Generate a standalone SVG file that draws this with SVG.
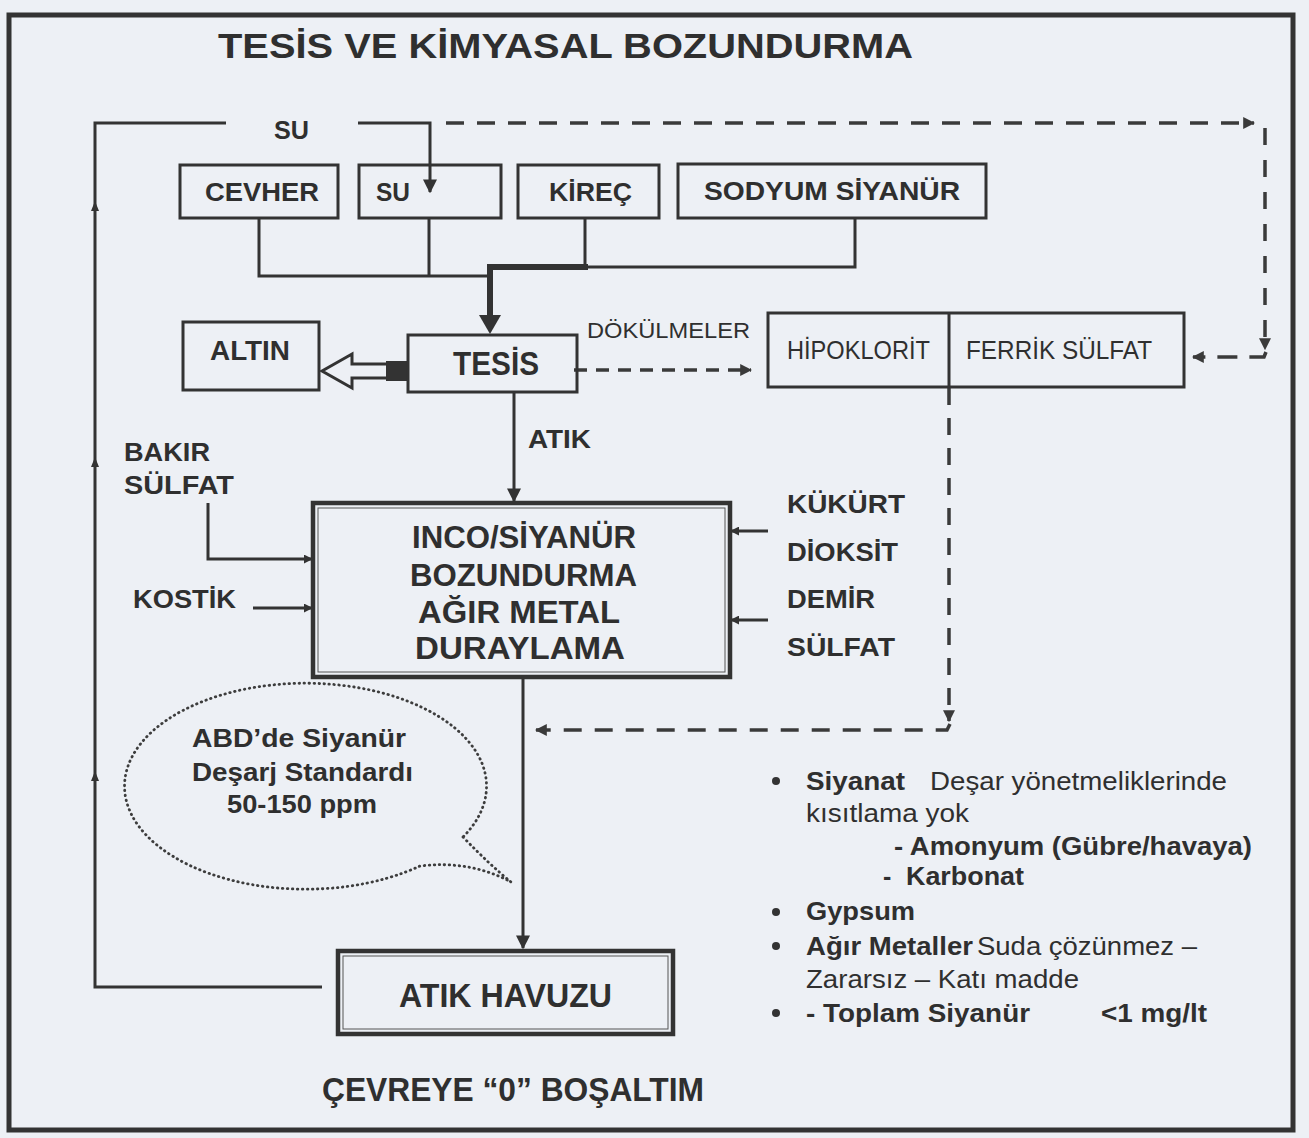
<svg xmlns="http://www.w3.org/2000/svg" width="1309" height="1138" viewBox="0 0 1309 1138">
<style>
.t{font-family:"Liberation Sans",Arial,sans-serif;fill:#2f2f2f}
.b{font-weight:bold}
.box{fill:none;stroke:#333;stroke-width:3}
.ln{fill:none;stroke:#333;stroke-width:3}
.dash{fill:none;stroke:#3a3a3a;stroke-width:3.5}
.dot{fill:none;stroke:#3d3d3d;stroke-width:2.8;stroke-dasharray:0.5 4.5;stroke-linecap:round}
</style>
<defs>
<marker id="a" viewBox="0 0 10 10" refX="9" refY="5" markerWidth="14" markerHeight="14" orient="auto" markerUnits="userSpaceOnUse"><path d="M0,0 L10,5 L0,10 z" fill="#333"/></marker>
<marker id="s" viewBox="0 0 10 10" refX="9" refY="5" markerWidth="9" markerHeight="9" orient="auto" markerUnits="userSpaceOnUse"><path d="M0,0 L10,5 L0,10 z" fill="#333"/></marker>
<marker id="d" viewBox="0 0 10 10" refX="9" refY="5" markerWidth="12" markerHeight="12" orient="auto" markerUnits="userSpaceOnUse"><path d="M0,0 L10,5 L0,10 z" fill="#3a3a3a"/></marker>
</defs>
<rect x="0" y="0" width="1309" height="1138" fill="#edf0f5"/>
<rect x="9" y="15" width="1284" height="1115" fill="none" stroke="#333" stroke-width="5"/>
<text class="t b" x="218" y="58" font-size="35" textLength="695" lengthAdjust="spacingAndGlyphs">TESİS VE KİMYASAL BOZUNDURMA</text>

<g id="connectors">
  <path class="ln" d="M322 987 L95 987 L95 123 L226 123"/>
  <path d="M91 211 L95 201 L99 211 Z M91 467 L95 457 L99 467 Z M91 781 L95 771 L99 781 Z" fill="#333"/>
  <path class="ln" d="M358 123 L430 123 L430 192" marker-end="url(#a)"/>
  <path class="ln" d="M259 218 L259 276 L490 276"/>
  <path class="ln" d="M429 218 L429 276"/>
  <path class="ln" d="M585 218 L585 267"/>
  <path class="ln" d="M585 267 L855 267 L855 218"/>
  <path fill="none" stroke="#333" stroke-width="6" d="M588 267 L490 267 L490 318"/>
  <path d="M479 315 L501 315 L490 334 Z" fill="#333"/>
  <path d="M322 371 L352 354 L352 364 L390 364 L390 378 L352 378 L352 388 Z" fill="#edf0f5" stroke="#333" stroke-width="3" stroke-linejoin="miter"/>
  <rect x="386" y="361" width="22" height="20" fill="#333"/>
  <path class="ln" d="M514 392 L514 501" marker-end="url(#a)"/>
  <path class="ln" d="M523 677 L523 948" marker-end="url(#a)"/>
  <path class="ln" d="M208 503 L208 559 L312 559" marker-end="url(#s)"/>
  <path class="ln" d="M253 608 L312 608" marker-end="url(#s)"/>
  <path class="ln" d="M768 531 L731 531" marker-end="url(#s)"/>
  <path class="ln" d="M768 620 L731 620" marker-end="url(#s)"/>
  <path class="dash" d="M446 123 L1254 123" stroke-dasharray="18 13" marker-end="url(#d)"/>
  <path class="dash" d="M1265 128 L1265 349" stroke-dasharray="17 15" marker-end="url(#d)"/>
  <path class="dash" d="M1266 352 L1264 357 L1193 357" stroke-dasharray="20 12" marker-end="url(#d)"/>
  <path class="dash" d="M574 370 L751 370" stroke-dasharray="13 9" marker-end="url(#d)"/>
  <path class="dash" d="M949 388 L949 721" stroke-dasharray="17 13" marker-end="url(#d)"/>
  <path class="dash" d="M950 724 L947 730 L536 730" stroke-dasharray="18 13" marker-end="url(#d)"/>
</g>

<g id="cevher"><rect class="box" x="180" y="165" width="158" height="53"/><text class="t b" x="205" y="201" font-size="26" textLength="114" lengthAdjust="spacingAndGlyphs">CEVHER</text></g>
<g id="su"><rect class="box" x="359" y="165" width="142" height="53"/><text class="t b" x="376" y="201" font-size="26" textLength="34" lengthAdjust="spacingAndGlyphs">SU</text></g>
<g id="kirec"><rect class="box" x="518" y="165" width="141" height="53"/><text class="t b" x="549" y="201" font-size="26" textLength="83" lengthAdjust="spacingAndGlyphs">KİREÇ</text></g>
<g id="sodyum"><rect class="box" x="678" y="164" width="308" height="54"/><text class="t b" x="704" y="200" font-size="26" textLength="256" lengthAdjust="spacingAndGlyphs">SODYUM SİYANÜR</text></g>
<g id="altin"><rect class="box" x="183" y="322" width="136" height="68"/><text class="t b" x="210" y="360" font-size="27" textLength="80" lengthAdjust="spacingAndGlyphs">ALTIN</text></g>
<g id="tesis"><rect class="box" x="408" y="335" width="169" height="57"/><text class="t b" x="453" y="375" font-size="33" textLength="86" lengthAdjust="spacingAndGlyphs">TESİS</text></g>
<g id="kimyasallar"><rect class="box" x="768" y="313" width="416" height="74"/><path class="ln" d="M949 313 L949 387"/>
  <text class="t" x="787" y="359" font-size="25" textLength="143" lengthAdjust="spacingAndGlyphs">HİPOKLORİT</text>
  <text class="t" x="966" y="359" font-size="25" textLength="186" lengthAdjust="spacingAndGlyphs">FERRİK SÜLFAT</text></g>
<g id="inco"><rect x="313" y="503" width="417" height="174" fill="none" stroke="#333" stroke-width="4.5"/><rect x="318" y="508" width="407" height="164" fill="none" stroke="#555" stroke-width="1"/>
  <text class="t b" x="412" y="548" font-size="32" textLength="224" lengthAdjust="spacingAndGlyphs">INCO/SİYANÜR</text>
  <text class="t b" x="410" y="586" font-size="32" textLength="227" lengthAdjust="spacingAndGlyphs">BOZUNDURMA</text>
  <text class="t b" x="418" y="623" font-size="32" textLength="202" lengthAdjust="spacingAndGlyphs">AĞIR METAL</text>
  <text class="t b" x="415" y="659" font-size="32" textLength="210" lengthAdjust="spacingAndGlyphs">DURAYLAMA</text></g>
<g id="havuz"><rect x="338" y="951" width="335" height="83" fill="none" stroke="#333" stroke-width="4.5"/><rect x="343" y="956" width="325" height="73" fill="none" stroke="#555" stroke-width="1"/>
  <text class="t b" x="399" y="1007" font-size="33" textLength="213" lengthAdjust="spacingAndGlyphs">ATIK HAVUZU</text></g>
<g id="bubble"><path class="dot" d="M463 837 Q490 865 511 882 Q470 860 420 866 A181 103 0 1 1 463 837"/>
  <text class="t b" x="192" y="747" font-size="25" textLength="214" lengthAdjust="spacingAndGlyphs">ABD’de Siyanür</text>
  <text class="t b" x="192" y="781" font-size="25" textLength="221" lengthAdjust="spacingAndGlyphs">Deşarj Standardı</text>
  <text class="t b" x="227" y="813" font-size="25" textLength="150" lengthAdjust="spacingAndGlyphs">50-150 ppm</text></g>
<g id="labels">
  <text class="t b" x="274" y="139" font-size="26" textLength="35" lengthAdjust="spacingAndGlyphs">SU</text>
  <text class="t" x="587" y="338" font-size="22" textLength="163" lengthAdjust="spacingAndGlyphs">DÖKÜLMELER</text>
  <text class="t b" x="528" y="448" font-size="25" textLength="63" lengthAdjust="spacingAndGlyphs">ATIK</text>
  <text class="t b" x="124" y="461" font-size="25" textLength="86" lengthAdjust="spacingAndGlyphs">BAKIR</text>
  <text class="t b" x="124" y="494" font-size="25" textLength="110" lengthAdjust="spacingAndGlyphs">SÜLFAT</text>
  <text class="t b" x="133" y="608" font-size="25" textLength="103" lengthAdjust="spacingAndGlyphs">KOSTİK</text>
  <text class="t b" x="787" y="513" font-size="25" textLength="118" lengthAdjust="spacingAndGlyphs">KÜKÜRT</text>
  <text class="t b" x="787" y="561" font-size="25" textLength="111" lengthAdjust="spacingAndGlyphs">DİOKSİT</text>
  <text class="t b" x="787" y="608" font-size="25" textLength="88" lengthAdjust="spacingAndGlyphs">DEMİR</text>
  <text class="t b" x="787" y="656" font-size="25" textLength="108" lengthAdjust="spacingAndGlyphs">SÜLFAT</text>
  <text class="t b" x="322" y="1101" font-size="34" textLength="382" lengthAdjust="spacingAndGlyphs">ÇEVREYE “0” BOŞALTIM</text>
</g>
<g id="notes">
  <circle cx="776" cy="781" r="4" fill="#333"/>
  <circle cx="776" cy="912" r="4" fill="#333"/>
  <circle cx="776" cy="946" r="4" fill="#333"/>
  <circle cx="776" cy="1013" r="4" fill="#333"/>
  <text class="t b" x="806" y="790" font-size="25" textLength="99" lengthAdjust="spacingAndGlyphs">Siyanat</text>
  <text class="t" x="930" y="790" font-size="25" textLength="297" lengthAdjust="spacingAndGlyphs">Deşar yönetmeliklerinde</text>
  <text class="t" x="806" y="822" font-size="25" textLength="163" lengthAdjust="spacingAndGlyphs">kısıtlama yok</text>
  <text class="t b" x="894" y="855" font-size="25" textLength="358" lengthAdjust="spacingAndGlyphs">- Amonyum (Gübre/havaya)</text>
  <text class="t b" x="883" y="885" font-size="25">-</text>
  <text class="t b" x="906" y="885" font-size="25" textLength="118" lengthAdjust="spacingAndGlyphs">Karbonat</text>
  <text class="t b" x="806" y="920" font-size="25" textLength="109" lengthAdjust="spacingAndGlyphs">Gypsum</text>
  <text class="t b" x="806" y="955" font-size="25" textLength="167" lengthAdjust="spacingAndGlyphs">Ağır Metaller</text>
  <text class="t" x="977" y="955" font-size="25" textLength="220" lengthAdjust="spacingAndGlyphs">Suda çözünmez –</text>
  <text class="t" x="806" y="988" font-size="25" textLength="273" lengthAdjust="spacingAndGlyphs">Zararsız – Katı madde</text>
  <text class="t b" x="806" y="1022" font-size="25" textLength="224" lengthAdjust="spacingAndGlyphs">- Toplam Siyanür</text>
  <text class="t b" x="1101" y="1022" font-size="25" textLength="106" lengthAdjust="spacingAndGlyphs">&lt;1 mg/lt</text>
</g>
</svg>
